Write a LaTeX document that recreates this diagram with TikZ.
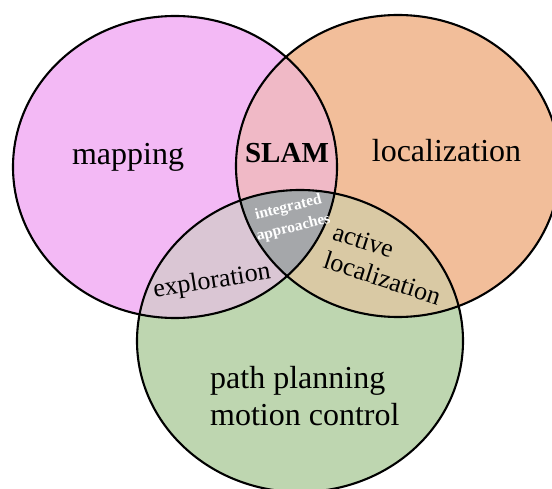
\documentclass[tikz,border=0pt]{standalone}
\usepackage{fontspec}
\setmainfont{Liberation Serif}

\definecolor{mapfill}{RGB}{243,185,245}
\definecolor{locfill}{RGB}{242,190,154}
\definecolor{planfill}{RGB}{190,214,176}
\definecolor{slamfill}{RGB}{240,185,198}
\definecolor{explfill}{RGB}{218,198,212}
\definecolor{activefill}{RGB}{217,201,164}
\definecolor{intfill}{RGB}{165,167,170}

% the three sets
\def\mapset{(175,321) ellipse [x radius=162, y radius=151]}
\def\locset{(398,322) ellipse [x radius=162, y radius=151]}
\def\planset{(300,147) ellipse [x radius=163, y radius=151]}

\tikzset{
    venn line/.style={draw=black, line width=2.1pt},
    big label/.style={inner sep=0pt, font=\fontsize{32}{37}\selectfont},
    small label/.style={inner sep=0pt, font=\fontsize{26}{30}\selectfont},
}

\begin{document}
\begin{tikzpicture}[x=1pt, y=1pt]
    \useasboundingbox (0,0) rectangle (552,488);
    \clip (0,0) rectangle (552,488);

    % plain sets
    \fill[mapfill] \mapset;
    \fill[locfill] \locset;
    \fill[planfill] \planset;

    % pairwise overlaps
    \begin{scope}
        \clip \mapset;
        \fill[slamfill] \locset;
        \fill[explfill] \planset;
    \end{scope}
    \begin{scope}
        \clip \locset;
        \fill[activefill] \planset;
    \end{scope}

    % all three
    \begin{scope}
        \clip \mapset;
        \clip \locset;
        \fill[intfill] \planset;
    \end{scope}

    \draw[venn line] \mapset;
    \draw[venn line] \locset;
    \draw[venn line] \planset;

    % labels
    \node[big label, anchor=base] (mapping) at (128,323) {mapping};
    \node[big label, anchor=base] (localization) at (446.5,326) {localization};
    \node[inner sep=0pt, anchor=base, font=\bfseries\fontsize{29}{34}\selectfont] (slam) at (287,325) {SLAM};
    \node[inner sep=0pt, text=white, align=center, rotate=14,
          font=\bfseries\fontsize{15.5}{21}\selectfont] (integrated) at (291,270) {integrated\\approaches};
    \node[small label, rotate=9] (exploration) at (212,206) {exploration};
    \node[small label, align=left, rotate=-18] (active) at (387,224) {active\\localization};
    \node[big label, anchor=base west, align=left] (planning) at (210,63) {path planning\\motion control};
\end{tikzpicture}
\end{document}
